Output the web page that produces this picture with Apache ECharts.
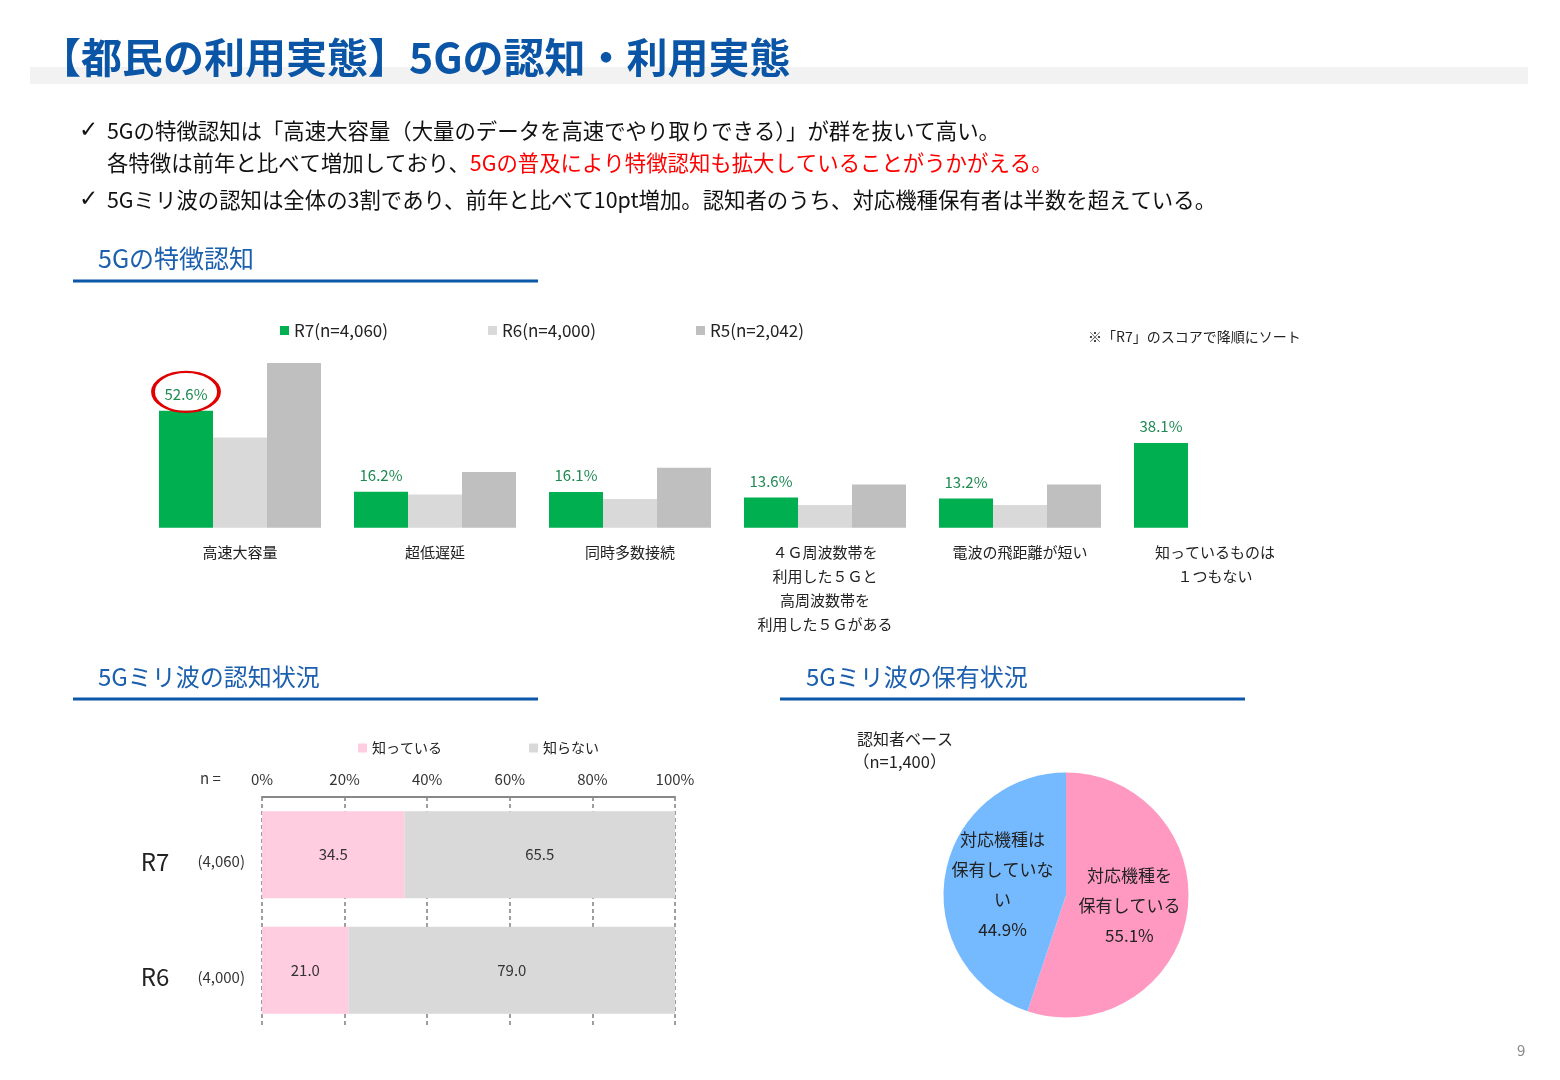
<!DOCTYPE html>
<html>
<head>
<meta charset="utf-8">
<script src="https://cdn.jsdelivr.net/npm/echarts@6/dist/echarts.min.js"></script>
<style>
html,body{margin:0;padding:0;background:#fff;}
#main{width:1560px;height:1080px;}
</style>
</head>
<body>
<div id="main"></div>
<script>
// ---- Data ----
const featureCategories = ['高速大容量', '超低遅延', '同時多数接続', '４Ｇ周波数帯を\n利用した５Ｇと\n高周波数帯を\n利用した５Ｇがある', '電波の飛距離が短い', '知っているものは\n１つもない'];
const featureSeriesNames = ['R7(n=4,060)', 'R6(n=4,000)', 'R5(n=2,042)'];
const r7Values = [52.6, 16.2, 16.1, 13.6, 13.2, 38.1];
const r6Values = [40.6, 15.0, 12.9, 10.2, 10.2, '-'];
const r5Values = [74.1, 25.1, 27.0, 19.5, 19.5, '-'];

const waveYears = ['R7', 'R6'];
const waveN = ['4,060', '4,000'];
const waveSeriesNames = ['知っている', '知らない'];
const knowValues = [34.5, 21.0];
const unknownValues = [65.5, 79.0];
const waveTicks = [0, 20, 40, 60, 80, 100];

const pieNames = ['対応機種を保有している', '対応機種は保有していない'];
const pieLabelLines = ['対応機種を\n保有している', '対応機種は\n保有していな\nい'];
const pieValues = [55.1, 44.9];

// ---- Chart ----
const FONT = '"Noto Sans CJK JP", "Noto Sans", sans-serif';
const chart = echarts.init(document.getElementById('main'), null, {renderer: 'canvas'});

function heading(x, y, text, size) {
  return {type: 'text', x: x, y: y, style: {text: text, fontSize: size, fill: '#1B5FAE', fontFamily: FONT, textVerticalAlign: 'middle'}};
}
function underline(x1, x2, y) {
  return {type: 'line', shape: {x1: x1, y1: y, x2: x2, y2: y}, style: {stroke: '#0B57A8', lineWidth: 3}};
}

const option = {
  backgroundColor: '#ffffff',
  textStyle: {fontFamily: FONT},
  animation: false,
  graphic: [
    {type: 'rect', shape: {x: 30, y: 67, width: 1498, height: 17}, style: {fill: '#F2F2F2'}},
    {type: 'text', x: 40, y: 57, style: {text: '【都民の利用実態】5Gの認知・利用実態', fontSize: 41, fontWeight: 'bold', fill: '#0A55A5', fontFamily: FONT, textVerticalAlign: 'middle'}},
    {type: 'text', x: 79, y: 131, style: {text: '✓', fontSize: 23, fill: '#111', fontFamily: '"DejaVu Sans"', textVerticalAlign: 'middle'}},
    {type: 'text', x: 107, y: 131, style: {text: '5Gの特徴認知は「高速大容量（大量のデータを高速でやり取りできる）」が群を抜いて高い。', fontSize: 21.4, fill: '#111', fontFamily: FONT, textVerticalAlign: 'middle'}},
    {type: 'text', x: 107, y: 163, style: {text: '{k|各特徴は前年と比べて増加しており、}{r|5Gの普及により特徴認知も拡大していることがうかがえる。}', fontSize: 21.4, fontFamily: FONT, textVerticalAlign: 'middle', rich: {k: {fontSize: 21.4, fill: '#111', color: '#111', fontFamily: FONT}, r: {fontSize: 21.4, color: '#FF0000', fill: '#FF0000', fontFamily: FONT}}}},
    {type: 'text', x: 79, y: 200, style: {text: '✓', fontSize: 23, fill: '#111', fontFamily: '"DejaVu Sans"', textVerticalAlign: 'middle'}},
    {type: 'text', x: 107, y: 200, style: {text: '5Gミリ波の認知は全体の3割であり、前年と比べて10pt増加。認知者のうち、対応機種保有者は半数を超えている。', fontSize: 21.4, fill: '#111', fontFamily: FONT, textVerticalAlign: 'middle'}},
    heading(98, 258, '5Gの特徴認知', 25),
    underline(73, 538, 281),
    heading(98, 677, '5Gミリ波の認知状況', 24),
    underline(73, 538, 699),
    heading(806, 677, '5Gミリ波の保有状況', 24),
    underline(780, 1245, 699),
    {type: 'text', x: 1088, y: 337, style: {text: '※「R7」のスコアで降順にソート', fontSize: 14, fill: '#222', fontFamily: FONT, textVerticalAlign: 'middle'}},
    {type: 'text', x: 200, y: 778, style: {text: 'n =', fontSize: 15, fill: '#333', fontFamily: FONT, textVerticalAlign: 'middle'}},
    {type: 'text', x: 857, y: 739, style: {text: '認知者ベース', fontSize: 16, fill: '#222', fontFamily: FONT, textVerticalAlign: 'middle'}},
    {type: 'text', x: 853, y: 762, style: {text: '（n=1,400）', fontSize: 16.5, fill: '#222', fontFamily: FONT, textVerticalAlign: 'middle'}},
    {type: 'text', x: 1517, y: 1050, style: {text: '9', fontSize: 15, fill: '#888', fontFamily: FONT, textVerticalAlign: 'middle'}}
  ],
  legend: [
    {
      data: featureSeriesNames, left: 275, top: 317, itemWidth: 9, itemHeight: 9, itemGap: 100,
      icon: 'rect', textStyle: {fontSize: 17, color: '#222', fontFamily: FONT}
    },
    {
      data: waveSeriesNames, left: 353, top: 736, itemWidth: 9, itemHeight: 9, itemGap: 87,
      icon: 'rect', textStyle: {fontSize: 14, color: '#222', fontFamily: FONT}
    }
  ],
  grid: [
    {left: 142.5, right: 247.5, top: 350, bottom: 552.3, containLabel: false},
    {left: 262, right: 885, top: 797, bottom: 52, containLabel: false}
  ],
  xAxis: [
    {
      type: 'category', gridIndex: 0, data: featureCategories,
      axisLine: {show: false}, axisTick: {show: false},
      axisLabel: {interval: 0, fontSize: 15, color: '#222', lineHeight: 24, margin: 13, fontFamily: FONT}
    },
    {
      type: 'value', gridIndex: 1, min: 0, max: 100, interval: 20, position: 'top',
      axisLine: {show: true, lineStyle: {color: '#888', width: 2}},
      axisTick: {show: false},
      splitLine: {show: true, lineStyle: {color: '#7F7F7F', type: [4, 3], width: 1.5}},
      axisLabel: {formatter: '{value}%', fontSize: 15, color: '#333', margin: 10, fontFamily: FONT}
    }
  ],
  yAxis: [
    {type: 'value', gridIndex: 0, min: 0, max: 80, show: false, splitLine: {show: false}},
    {
      type: 'category', gridIndex: 1, data: waveYears, inverse: true,
      axisLine: {show: false}, axisTick: {show: false},
      axisLabel: {
        margin: 17,
        padding: [14, 0, 0, 0],
        formatter: function (v, i) { return '{y|' + v + '}{n|(' + waveN[i] + ')}'; },
        rich: {
          y: {fontSize: 24, color: '#222', padding: [0, 28, 0, 0], fontFamily: FONT},
          n: {fontSize: 15, color: '#333', fontFamily: FONT}
        }
      }
    }
  ],
  series: [
    {
      name: featureSeriesNames[0], type: 'bar', xAxisIndex: 0, yAxisIndex: 0, data: r7Values,
      barWidth: 54, barGap: '0%', itemStyle: {color: '#00B050'},
      label: {show: true, position: 'top', distance: 9, fontSize: 15, color: '#1E8A52', fontFamily: FONT,
        formatter: function (p) { return p.value.toFixed(1) + '%'; }},
      markPoint: {
        silent: true,
        data: [{coord: [0, r7Values[0]]}],
        symbol: 'path://M0,50 A50,50 0 1,1 100,50 A50,50 0 1,1 0,50 Z',
        symbolSize: [66, 40], symbolOffset: [0, -19], symbolKeepAspect: false,
        itemStyle: {color: 'rgba(0,0,0,0)', borderColor: '#E00000', borderWidth: 3},
        label: {show: false}
      }
    },
    {
      name: featureSeriesNames[1], type: 'bar', xAxisIndex: 0, yAxisIndex: 0, data: r6Values,
      barWidth: 54, barGap: '0%', itemStyle: {color: '#D9D9D9'}
    },
    {
      name: featureSeriesNames[2], type: 'bar', xAxisIndex: 0, yAxisIndex: 0, data: r5Values,
      barWidth: 54, barGap: '0%', itemStyle: {color: '#BFBFBF'}
    },
    {
      name: waveSeriesNames[0], type: 'bar', xAxisIndex: 1, yAxisIndex: 1, stack: 'wave', data: knowValues,
      barWidth: 87, itemStyle: {color: '#FFCCE0'},
      label: {show: true, position: 'inside', fontSize: 15, color: '#333', fontFamily: FONT,
        formatter: function (p) { return p.value.toFixed(1); }}
    },
    {
      name: waveSeriesNames[1], type: 'bar', xAxisIndex: 1, yAxisIndex: 1, stack: 'wave', data: unknownValues,
      barWidth: 87, itemStyle: {color: '#D9D9D9'},
      label: {show: true, position: 'inside', fontSize: 15, color: '#333', fontFamily: FONT,
        formatter: function (p) { return p.value.toFixed(1); }}
    },
    {
      type: 'pie', center: [1066, 895], radius: 122.5, startAngle: 90, clockwise: true,
      label: {
        show: true, position: 'inside', fontSize: 17, lineHeight: 30, color: '#222', fontFamily: FONT,
        formatter: function (p) { return pieLabelLines[p.dataIndex] + '\n' + p.value.toFixed(1) + '%'; }
      },
      labelLine: {show: false},
      itemStyle: {borderWidth: 0},
      data: [
        {name: pieNames[0], value: pieValues[0], itemStyle: {color: '#FF99C2'}},
        {name: pieNames[1], value: pieValues[1], itemStyle: {color: '#75B9FF'}}
      ]
    }
  ]
};
chart.setOption(option);
</script>
</body>
</html>
